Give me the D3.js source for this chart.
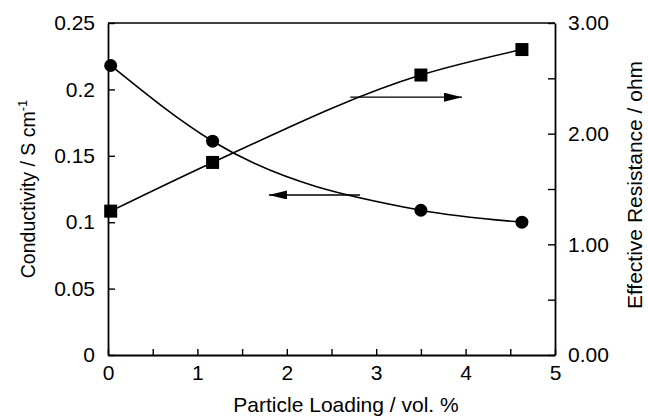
<!DOCTYPE html>
<html>
<head>
<meta charset="utf-8">
<script src="https://cdn.jsdelivr.net/npm/d3@7"></script>
<style>
  body { margin: 0; background: #fff; }
  svg text { font-family: "Liberation Sans", Arial, sans-serif; fill: #000; }
</style>
</head>
<body>
<svg id="chart" width="648" height="417"></svg>
<script>
// Données
const loading = [0.03, 1.17, 3.5, 4.63];
const conductivity = [0.218, 0.161, 0.109, 0.1];
const resistance = [1.3, 1.74, 2.53, 2.76];

const xTicks = [0, 0.5, 1, 1.5, 2, 2.5, 3, 3.5, 4, 4.5, 5];
const xLabels = ['0', '1', '2', '3', '4', '5'];
const leftTicks = [0, 0.05, 0.1, 0.15, 0.2, 0.25];
const leftLabels = ['0', '0.05', '0.1', '0.15', '0.2', '0.25'];
const rightTicks = [0, 0.5, 1, 1.5, 2, 2.5, 3];
const rightLabels = ['0.00', '1.00', '2.00', '3.00'];

// flèches : [x début, x fin, valeur y]
const arrowLeft = [2.82, 1.8, 0.1205];
const arrowRight = [2.71, 3.96, 2.33];

const svg = d3.select('#chart');

const plotLeft = 108, plotRight = 555, plotTop = 23, plotBottom = 355;

const x = d3.scaleLinear().domain([0, 5]).range([plotLeft, plotRight]);
const yL = d3.scaleLinear().domain([0, 0.25]).range([plotBottom, plotTop]);
const yR = d3.scaleLinear().domain([0, 3]).range([plotBottom, plotTop]);

// cadre du haut
svg.append('line')
  .attr('x1', plotLeft).attr('x2', plotRight)
  .attr('y1', plotTop).attr('y2', plotTop)
  .attr('stroke', '#000').attr('stroke-width', 1.5);

const styleAxis = (g) => {
  g.select('.domain').attr('stroke-width', 1.8);
  g.selectAll('.tick line').attr('stroke-width', 1.4);
  g.selectAll('.tick text')
    .attr('font-size', 21)
    .attr('font-family', '"Liberation Sans", Arial, sans-serif');
};

// axe X
svg.append('g')
  .attr('transform', `translate(0,${plotBottom})`)
  .call(d3.axisBottom(x).tickValues(xTicks).tickSize(-6).tickSizeOuter(0).tickPadding(10)
    .tickFormat((d) => (Number.isInteger(d) ? xLabels[d] : '')))
  .call(styleAxis);

// axe gauche
svg.append('g')
  .attr('transform', `translate(${plotLeft},0)`)
  .call(d3.axisLeft(yL).tickValues(leftTicks).tickSize(-7).tickSizeOuter(0).tickPadding(13)
    .tickFormat((d, i) => leftLabels[i]))
  .call(styleAxis);

// axe droit
svg.append('g')
  .attr('transform', `translate(${plotRight},0)`)
  .call(d3.axisRight(yR).tickValues(rightTicks).tickSize(-7).tickSizeOuter(0).tickPadding(13)
    .tickFormat((d) => (Number.isInteger(d) ? rightLabels[d] : '')))
  .call(styleAxis);

// titres
svg.append('text')
  .attr('x', 346).attr('y', 412)
  .attr('text-anchor', 'middle').attr('font-size', 21)
  .text('Particle Loading / vol. %');

const tl = svg.append('text')
  .attr('transform', 'translate(35,189) rotate(-90)')
  .attr('text-anchor', 'middle').attr('font-size', 19.5);
tl.append('tspan').text('Conductivity / S cm');
tl.append('tspan').attr('dy', -8).attr('font-size', 13).text('-1');

svg.append('text')
  .attr('transform', 'translate(642,185) rotate(-90)')
  .attr('text-anchor', 'middle').attr('font-size', 21)
  .text('Effective Resistance / ohm');

// courbes
const condData = loading.map((d, i) => [d, conductivity[i]]);
const resData = loading.map((d, i) => [d, resistance[i]]);

svg.append('path')
  .datum(condData)
  .attr('fill', 'none').attr('stroke', '#000').attr('stroke-width', 1.6)
  .attr('d', d3.line().x((d) => x(d[0])).y((d) => yL(d[1])).curve(d3.curveMonotoneX));

svg.append('path')
  .datum(resData)
  .attr('fill', 'none').attr('stroke', '#000').attr('stroke-width', 1.6)
  .attr('d', d3.line().x((d) => x(d[0])).y((d) => yR(d[1])).curve(d3.curveMonotoneX));

// marqueurs
svg.selectAll('circle.cond')
  .data(condData)
  .enter()
  .append('circle')
  .attr('class', 'cond')
  .attr('cx', (d) => x(d[0]))
  .attr('cy', (d) => yL(d[1]))
  .attr('r', 6.5)
  .attr('fill', '#000');

svg.selectAll('rect.res')
  .data(resData)
  .enter()
  .append('rect')
  .attr('class', 'res')
  .attr('x', (d) => x(d[0]) - 6.5)
  .attr('y', (d) => yR(d[1]) - 6.5)
  .attr('width', 13)
  .attr('height', 13)
  .attr('fill', '#000');

// flèches
svg.append('defs').append('marker')
  .attr('id', 'head')
  .attr('viewBox', '0 0 20 10')
  .attr('refX', 20).attr('refY', 5)
  .attr('markerWidth', 20).attr('markerHeight', 9)
  .attr('markerUnits', 'userSpaceOnUse')
  .attr('orient', 'auto')
  .append('path')
  .attr('d', 'M0,0L20,5L0,10Z')
  .attr('fill', '#000');

svg.append('line')
  .attr('x1', x(arrowLeft[0])).attr('x2', x(arrowLeft[1]))
  .attr('y1', yL(arrowLeft[2])).attr('y2', yL(arrowLeft[2]))
  .attr('stroke', '#000').attr('stroke-width', 1.3)
  .attr('marker-end', 'url(#head)');

svg.append('line')
  .attr('x1', x(arrowRight[0])).attr('x2', x(arrowRight[1]))
  .attr('y1', yR(arrowRight[2])).attr('y2', yR(arrowRight[2]))
  .attr('stroke', '#000').attr('stroke-width', 1.3)
  .attr('marker-end', 'url(#head)');
</script>
</body>
</html>
